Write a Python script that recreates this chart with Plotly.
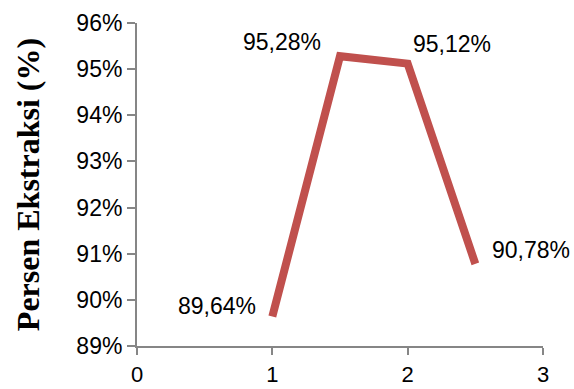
import plotly.graph_objects as go

x_vals = [1, 1.5, 2, 2.5]
y_vals = [89.64, 95.28, 95.12, 90.78]
labels = ["89,64%", "95,28%", "95,12%", "90,78%"]
y_ticks = [89, 90, 91, 92, 93, 94, 95, 96]
y_ticktext = ["89%", "90%", "91%", "92%", "93%", "94%", "95%", "96%"]
x_ticks = [0, 1, 2, 3]

line_color = "#C0504D"
axis_color = "#868686"
tick_font = dict(family="Liberation Sans, Arial, sans-serif", size=23, color="#000000")
xtick_font = dict(family="Liberation Sans, Arial, sans-serif", size=22, color="#000000")

fig = go.Figure()
fig.add_trace(go.Scatter(x=x_vals, y=y_vals, mode="lines",
                         line=dict(color=line_color, width=8), hoverinfo="skip"))

# label placement (styling)
placements = [
    dict(xanchor="right", yanchor="middle", xshift=-14, yshift=10),
    dict(xanchor="right", yanchor="middle", xshift=-17, yshift=14),
    dict(xanchor="left", yanchor="middle", xshift=3, yshift=20),
    dict(xanchor="left", yanchor="middle", xshift=15, yshift=14),
]
for xv, yv, lab, pl in zip(x_vals, y_vals, labels, placements):
    fig.add_annotation(x=xv, y=yv, text=lab, showarrow=False, font=tick_font, **pl)

fig.update_layout(
    width=574, height=389,
    margin=dict(l=137, r=31, t=23, b=43),
    paper_bgcolor="white", plot_bgcolor="white",
    showlegend=False,
)
fig.update_xaxes(range=[0, 3], tickvals=x_ticks, showgrid=False, zeroline=False,
                 automargin=False,
                 showline=True, linecolor=axis_color, linewidth=2,
                 ticks="outside", ticklen=7, tickwidth=2, tickcolor=axis_color,
                 tickfont=xtick_font, ticklabelstandoff=1)
fig.update_yaxes(range=[89, 96], tickvals=y_ticks, ticktext=y_ticktext,
                 showgrid=False, zeroline=False, automargin=False,
                 showline=True, linecolor=axis_color, linewidth=2,
                 ticks="outside", ticklen=8, tickwidth=2, tickcolor=axis_color,
                 tickfont=tick_font,
                 title=dict(text="<b>Persen Ekstraksi (%)</b>",
                            font=dict(family="Liberation Serif, Times New Roman, serif", size=32, color="#000000"),
                            standoff=27))

fig.write_html("out.html")
